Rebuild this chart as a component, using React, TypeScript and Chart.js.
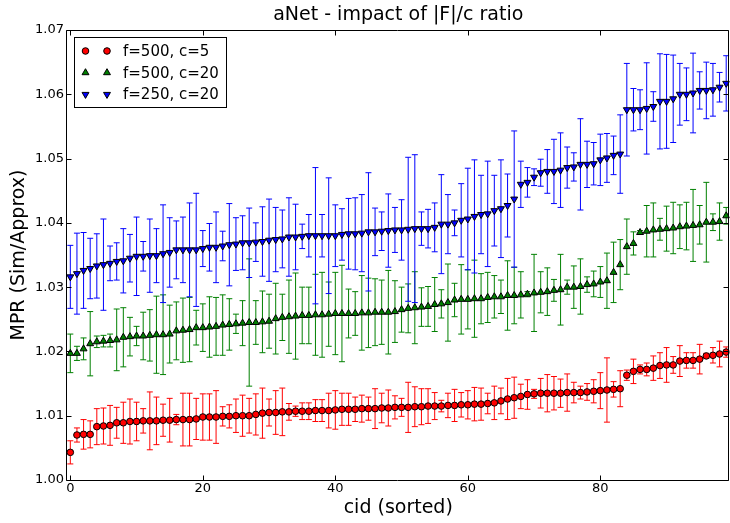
import { useEffect, useRef } from "react";
import { Chart, registerables } from "chart.js";

Chart.register(...registerables);

// x categories (cid, sorted)
const cid = Array.from({ length: 100 }, (_, i) => i);

const xTickValues = [0, 20, 40, 60, 80];
const yTickValues = [1.0, 1.01, 1.02, 1.03, 1.04, 1.05, 1.06, 1.07];

const chartTitle = "aNet - impact of |F|/c ratio";
const seriesLabels = ["f=500, c=5", "f=500, c=20", "f=250, c=20"];

// f=500, c=5
const redValues = [
  1.0043, 1.0070, 1.0071, 1.0071, 1.0083, 1.0084, 1.0085, 1.0089, 1.0089, 1.0091,
  1.0091, 1.0092, 1.0092, 1.0092, 1.0093, 1.0093, 1.0094, 1.0094, 1.0094, 1.0095,
  1.0098, 1.0098, 1.0098, 1.0099, 1.0099, 1.0100, 1.0100, 1.0100, 1.0102, 1.0104,
  1.0105, 1.0105, 1.0106, 1.0106, 1.0107, 1.0107, 1.0107, 1.0108, 1.0108, 1.0108,
  1.0109, 1.0110, 1.0110, 1.0110, 1.0111, 1.0111, 1.0111, 1.0112, 1.0112, 1.0113,
  1.0113, 1.0113, 1.0114, 1.0114, 1.0115, 1.0115, 1.0115, 1.0116, 1.0116, 1.0117,
  1.0117, 1.0118, 1.0118, 1.0119, 1.0120, 1.0123, 1.0126, 1.0128, 1.0130, 1.0133,
  1.0134, 1.0135, 1.0135, 1.0135, 1.0135, 1.0136, 1.0136, 1.0136, 1.0137, 1.0138,
  1.0139, 1.0140, 1.0141, 1.0142, 1.0163, 1.0169, 1.0172, 1.0172, 1.0174, 1.0178,
  1.0179, 1.0179, 1.0185, 1.0186, 1.0186, 1.0188, 1.0193, 1.0194, 1.0196, 1.0199,
];
const redErrors = [
  0.0018, 0.0011, 0.0023, 0.0021, 0.0028, 0.0028, 0.0031, 0.0024, 0.0032, 0.0035,
  0.0030, 0.0019, 0.0045, 0.0037, 0.0025, 0.0034, 0.0008, 0.0041, 0.0041, 0.0032,
  0.0036, 0.0036, 0.0041, 0.0015, 0.0018, 0.0026, 0.0032, 0.0027, 0.0032, 0.0039,
  0.0021, 0.0034, 0.0037, 0.0013, 0.0008, 0.0013, 0.0013, 0.0017, 0.0017, 0.0027,
  0.0030, 0.0025, 0.0025, 0.0019, 0.0021, 0.0018, 0.0031, 0.0023, 0.0028, 0.0018,
  0.0014, 0.0039, 0.0031, 0.0028, 0.0027, 0.0021, 0.0009, 0.0019, 0.0025, 0.0019,
  0.0022, 0.0026, 0.0025, 0.0016, 0.0026, 0.0020, 0.0032, 0.0032, 0.0019, 0.0023,
  0.0007, 0.0023, 0.0029, 0.0026, 0.0022, 0.0029, 0.0016, 0.0010, 0.0013, 0.0018,
  0.0028, 0.0050, 0.0012, 0.0028, 0.0008, 0.0019, 0.0007, 0.0010, 0.0019, 0.0020,
  0.0027, 0.0013, 0.0024, 0.0012, 0.0012, 0.0023, 0.0004, 0.0012, 0.0020, 0.0008,
];

// f=500, c=20
const greenValues = [
  1.0197, 1.0197, 1.0204, 1.0212, 1.0215, 1.0216, 1.0217, 1.0218, 1.0222, 1.0223,
  1.0224, 1.0224, 1.0225, 1.0226, 1.0226, 1.0227, 1.0232, 1.0233, 1.0234, 1.0237,
  1.0237, 1.0238, 1.0239, 1.0241, 1.0242, 1.0243, 1.0244, 1.0245, 1.0245, 1.0246,
  1.0247, 1.0251, 1.0253, 1.0254, 1.0255, 1.0256, 1.0256, 1.0257, 1.0257, 1.0258,
  1.0259, 1.0259, 1.0259, 1.0259, 1.0260, 1.0260, 1.0261, 1.0261, 1.0261, 1.0262,
  1.0265, 1.0267, 1.0268, 1.0269, 1.0270, 1.0273, 1.0274, 1.0276, 1.0280, 1.0281,
  1.0281, 1.0282, 1.0282, 1.0284, 1.0285, 1.0285, 1.0287, 1.0287, 1.0288, 1.0289,
  1.0291, 1.0292, 1.0293, 1.0295, 1.0296, 1.0300, 1.0300, 1.0301, 1.0304, 1.0305,
  1.0308, 1.0310, 1.0323, 1.0335, 1.0363, 1.0368, 1.0385, 1.0387, 1.0389, 1.0390,
  1.0391, 1.0392, 1.0394, 1.0395, 1.0396, 1.0397, 1.0401, 1.0401, 1.0402, 1.0411,
];
const greenErrors = [
  0.0030, 0.0011, 0.0017, 0.0050, 0.0009, 0.0009, 0.0010, 0.0048, 0.0046, 0.0030,
  0.0015, 0.0037, 0.0040, 0.0060, 0.0062, 0.0045, 0.0045, 0.0050, 0.0050, 0.0027,
  0.0037, 0.0047, 0.0045, 0.0047, 0.0040, 0.0015, 0.0035, 0.0099, 0.0034, 0.0048,
  0.0042, 0.0055, 0.0036, 0.0057, 0.0067, 0.0044, 0.0044, 0.0063, 0.0066, 0.0050,
  0.0064, 0.0075, 0.0038, 0.0034, 0.0058, 0.0054, 0.0052, 0.0050, 0.0065, 0.0048,
  0.0035, 0.0038, 0.0056, 0.0030, 0.0031, 0.0042, 0.0022, 0.0060, 0.0026, 0.0054,
  0.0046, 0.0060, 0.0039, 0.0039, 0.0033, 0.0026, 0.0054, 0.0044, 0.0036, 0.0004,
  0.0060, 0.0032, 0.0037, 0.0017, 0.0055, 0.0011, 0.0033, 0.0043, 0.0012, 0.0020,
  0.0024, 0.0043, 0.0047, 0.0039, 0.0043, 0.0018, 0.0003, 0.0040, 0.0042, 0.0017,
  0.0035, 0.0040, 0.0034, 0.0037, 0.0056, 0.0030, 0.0062, 0.0013, 0.0029, 0.0013,
];

// f=250, c=20
const blueValues = [
  1.0316, 1.0321, 1.0326, 1.0329, 1.0333, 1.0335, 1.0337, 1.0340, 1.0341, 1.0345,
  1.0348, 1.0348, 1.0349, 1.0349, 1.0352, 1.0354, 1.0358, 1.0358, 1.0358, 1.0358,
  1.0360, 1.0362, 1.0362, 1.0364, 1.0366, 1.0367, 1.0369, 1.0369, 1.0370, 1.0371,
  1.0373, 1.0374, 1.0375, 1.0378, 1.0378, 1.0379, 1.0380, 1.0380, 1.0380, 1.0380,
  1.0380, 1.0382, 1.0383, 1.0383, 1.0384, 1.0386, 1.0386, 1.0387, 1.0388, 1.0389,
  1.0389, 1.0390, 1.0391, 1.0391, 1.0391, 1.0393, 1.0398, 1.0398, 1.0400, 1.0404,
  1.0406, 1.0410, 1.0413, 1.0414, 1.0419, 1.0422, 1.0427, 1.0437, 1.0460, 1.0463,
  1.0471, 1.0478, 1.0480, 1.0480, 1.0482, 1.0486, 1.0487, 1.0491, 1.0491, 1.0492,
  1.0498, 1.0501, 1.0505, 1.0507, 1.0576, 1.0576, 1.0576, 1.0578, 1.0581, 1.0589,
  1.0589, 1.0593, 1.0600, 1.0600, 1.0602, 1.0606, 1.0606, 1.0607, 1.0611, 1.0617,
];
const blueErrors = [
  0.0049, 0.0063, 0.0059, 0.0047, 0.0050, 0.0071, 0.0027, 0.0029, 0.0050, 0.0037,
  0.0061, 0.0023, 0.0057, 0.0042, 0.0076, 0.0054, 0.0045, 0.0051, 0.0073, 0.0088,
  0.0028, 0.0037, 0.0055, 0.0023, 0.0064, 0.0041, 0.0042, 0.0054, 0.0030, 0.0054,
  0.0064, 0.0050, 0.0045, 0.0061, 0.0051, 0.0019, 0.0033, 0.0106, 0.0033, 0.0090,
  0.0048, 0.0040, 0.0055, 0.0056, 0.0060, 0.0092, 0.0037, 0.0030, 0.0057, 0.0035,
  0.0047, 0.0112, 0.0115, 0.0026, 0.0030, 0.0038, 0.0077, 0.0046, 0.0020, 0.0057,
  0.0079, 0.0088, 0.0061, 0.0082, 0.0055, 0.0076, 0.0049, 0.0106, 0.0036, 0.0023,
  0.0013, 0.0021, 0.0034, 0.0050, 0.0058, 0.0032, 0.0022, 0.0071, 0.0036, 0.0033,
  0.0040, 0.0038, 0.0030, 0.0061, 0.0072, 0.0033, 0.0031, 0.0071, 0.0023, 0.0074,
  0.0073, 0.0068, 0.0048, 0.0041, 0.0062, 0.0029, 0.0044, 0.0041, 0.0023, 0.0043,
];

const seriesColors = ["#ff0000", "#008000", "#0000ff"];
const seriesStyles = ["circle", "triangle", "triangle"];
const seriesRotations = [0, 0, 180];
const seriesRadii = [3.3, 4, 4];

const FONT = "DejaVu Sans";

function drawMarker(ctx: CanvasRenderingContext2D, style: string, rot: number, r: number, x: number, y: number) {
  ctx.beginPath();
  if (style === "circle") {
    ctx.arc(x, y, r, 0, Math.PI * 2);
  } else {
    let rad = (rot * Math.PI) / 180;
    ctx.moveTo(x + Math.sin(rad) * r, y - Math.cos(rad) * r);
    rad += (2 * Math.PI) / 3;
    ctx.lineTo(x + Math.sin(rad) * r, y - Math.cos(rad) * r);
    rad += (2 * Math.PI) / 3;
    ctx.lineTo(x + Math.sin(rad) * r, y - Math.cos(rad) * r);
    ctx.closePath();
  }
  ctx.fill();
  ctx.stroke();
}

const errorBarPlugin = {
  id: "errorBars",
  beforeDatasetDraw(chart: any, args: any) {
    const ds = chart.data.datasets[args.index];
    const errs: number[] = ds.errors;
    if (!errs) return;
    const xs = chart.scales.x;
    const ys = chart.scales.y;
    const ctx: CanvasRenderingContext2D = chart.ctx;
    const a = chart.chartArea;
    ctx.save();
    ctx.beginPath();
    ctx.rect(a.left, a.top, a.right - a.left, a.bottom - a.top);
    ctx.clip();
    ctx.strokeStyle = ds.errorColor;
    ctx.lineWidth = 1;
    ctx.beginPath();
    ds.data.forEach((p: any, i: number) => {
      const x = xs.getPixelForValue(p.x);
      const y1 = ys.getPixelForValue(p.y - errs[i]);
      const y2 = ys.getPixelForValue(p.y + errs[i]);
      ctx.moveTo(x, y1);
      ctx.lineTo(x, y2);
      ctx.moveTo(x - 3, y1);
      ctx.lineTo(x + 3, y1);
      ctx.moveTo(x - 3, y2);
      ctx.lineTo(x + 3, y2);
    });
    ctx.stroke();
    ctx.restore();
  },
};

const framePlugin = {
  id: "frameTicks",
  afterDatasetsDraw(chart: any) {
    const ctx: CanvasRenderingContext2D = chart.ctx;
    const a = chart.chartArea;
    const xs = chart.scales.x;
    const ys = chart.scales.y;
    const L = Math.floor(a.left) - 0.5;
    const R = Math.floor(a.right) - 0.5;
    const T = Math.floor(a.top) + 0.5;
    const B = Math.floor(a.bottom) + 0.5;
    ctx.save();
    ctx.strokeStyle = "#000";
    ctx.lineWidth = 1;
    ctx.beginPath();
    const tl = 5;
    xTickValues.forEach((v) => {
      const x = Math.round(xs.getPixelForValue(v)) + 0.5;
      ctx.moveTo(x, B);
      ctx.lineTo(x, B - tl);
      ctx.moveTo(x, T);
      ctx.lineTo(x, T + tl);
    });
    yTickValues.forEach((v) => {
      const y = Math.round(ys.getPixelForValue(v)) + 0.5;
      ctx.moveTo(L, y);
      ctx.lineTo(L + tl, y);
      ctx.moveTo(R, y);
      ctx.lineTo(R - tl, y);
    });
    ctx.stroke();
    ctx.beginPath();
    ctx.rect(L, T, R - L, B - T);
    ctx.stroke();

    // title, centred over the plot area
    ctx.fillStyle = "#000";
    ctx.font = `19px "${FONT}"`;
    ctx.textAlign = "center";
    ctx.textBaseline = "middle";
    ctx.fillText(chartTitle, (a.left + a.right) / 2, a.top - 14.6);

    // legend
    const bx = Math.floor(a.left) + 7.5;
    const by = Math.floor(a.top) + 7.5;
    const bw = 152;
    const bh = 70;
    ctx.fillStyle = "#fff";
    ctx.fillRect(bx, by, bw, bh);
    ctx.strokeStyle = "#000";
    ctx.strokeRect(bx, by, bw, bh);
    ctx.font = `15px "${FONT}"`;
    ctx.textBaseline = "middle";
    ctx.textAlign = "left";
    seriesLabels.forEach((label, i) => {
      const y = by + 13.5 + i * 21.7;
      ctx.fillStyle = seriesColors[i];
      ctx.strokeStyle = "#000";
      ctx.lineWidth = 1;
      drawMarker(ctx, seriesStyles[i], seriesRotations[i], seriesRadii[i], bx + 11, y);
      drawMarker(ctx, seriesStyles[i], seriesRotations[i], seriesRadii[i], bx + 32.5, y);
      ctx.fillStyle = "#000";
      ctx.fillText(label, bx + 48.5, y + 1);
    });
    ctx.restore();
  },
};

const zeroPad = (s: any) => {
  s.paddingLeft = 0;
  s.paddingRight = 0;
  s.paddingTop = 0;
  s.paddingBottom = 0;
};

export default function App() {
  const ref = useRef<HTMLCanvasElement | null>(null);
  useEffect(() => {
    if (!ref.current) return;
    Chart.defaults.font.family = FONT;
    const values = [redValues, greenValues, blueValues];
    const errors = [redErrors, greenErrors, blueErrors];
    const datasets = seriesLabels.map((label, s) => ({
      label,
      data: cid.map((c, i) => ({ x: c, y: values[s][i] })),
      errors: errors[s],
      errorColor: seriesColors[s],
      pointStyle: seriesStyles[s],
      rotation: seriesRotations[s],
      pointRadius: seriesRadii[s],
      pointHoverRadius: seriesRadii[s],
      pointBackgroundColor: seriesColors[s],
      pointBorderColor: "#000",
      pointBorderWidth: 1,
      showLine: false,
      order: 2 - s,
    }));
    const chart = new Chart(ref.current, {
      type: "scatter",
      data: { datasets } as any,
      options: {
        animation: false,
        responsive: false,
        events: [],
        layout: { autoPadding: false, padding: { top: 30, right: 0.5, left: 0, bottom: 0 } },
        plugins: {
          legend: { display: false },
          tooltip: { enabled: false },
          title: { display: false },
        },
        scales: {
          x: {
            type: "linear",
            min: -0.5,
            max: 99.5,
            afterBuildTicks: (s: any) => {
              s.ticks = xTickValues.map((v) => ({ value: v }));
            },
            afterFit: (s: any) => {
              s.height = 43;
              zeroPad(s);
            },
            grid: { display: false, drawTicks: false },
            border: { display: false },
            ticks: {
              color: "#000",
              font: { family: FONT, size: 13 },
              padding: 1,
              maxRotation: 0,
              autoSkip: false,
            },
            title: {
              display: true,
              text: "cid (sorted)",
              color: "#000",
              font: { family: FONT, size: 19 },
              padding: { top: 0, bottom: 4 },
            },
          },
          y: {
            type: "linear",
            min: 1.0,
            max: 1.07,
            afterBuildTicks: (s: any) => {
              s.ticks = yTickValues.map((v) => ({ value: v }));
            },
            afterFit: (s: any) => {
              s.width = 67;
              zeroPad(s);
            },
            grid: { display: false, drawTicks: false },
            border: { display: false },
            ticks: {
              color: "#000",
              font: { family: FONT, size: 13 },
              padding: 3,
              autoSkip: false,
              callback: (v: any) => Number(v).toFixed(2),
            },
            title: {
              display: true,
              text: "MPR (Sim/Approx)",
              color: "#000",
              font: { family: FONT, size: 19 },
              padding: { top: 7.6, bottom: 0 },
            },
          },
        },
      } as any,
      plugins: [errorBarPlugin, framePlugin],
    });
    return () => chart.destroy();
  }, []);
  return (
    <div style={{ position: "absolute", left: 0, top: 0, width: 730, height: 523 }}>
      <canvas ref={ref} width={730} height={523} style={{ display: "block" }} />
    </div>
  );
}
